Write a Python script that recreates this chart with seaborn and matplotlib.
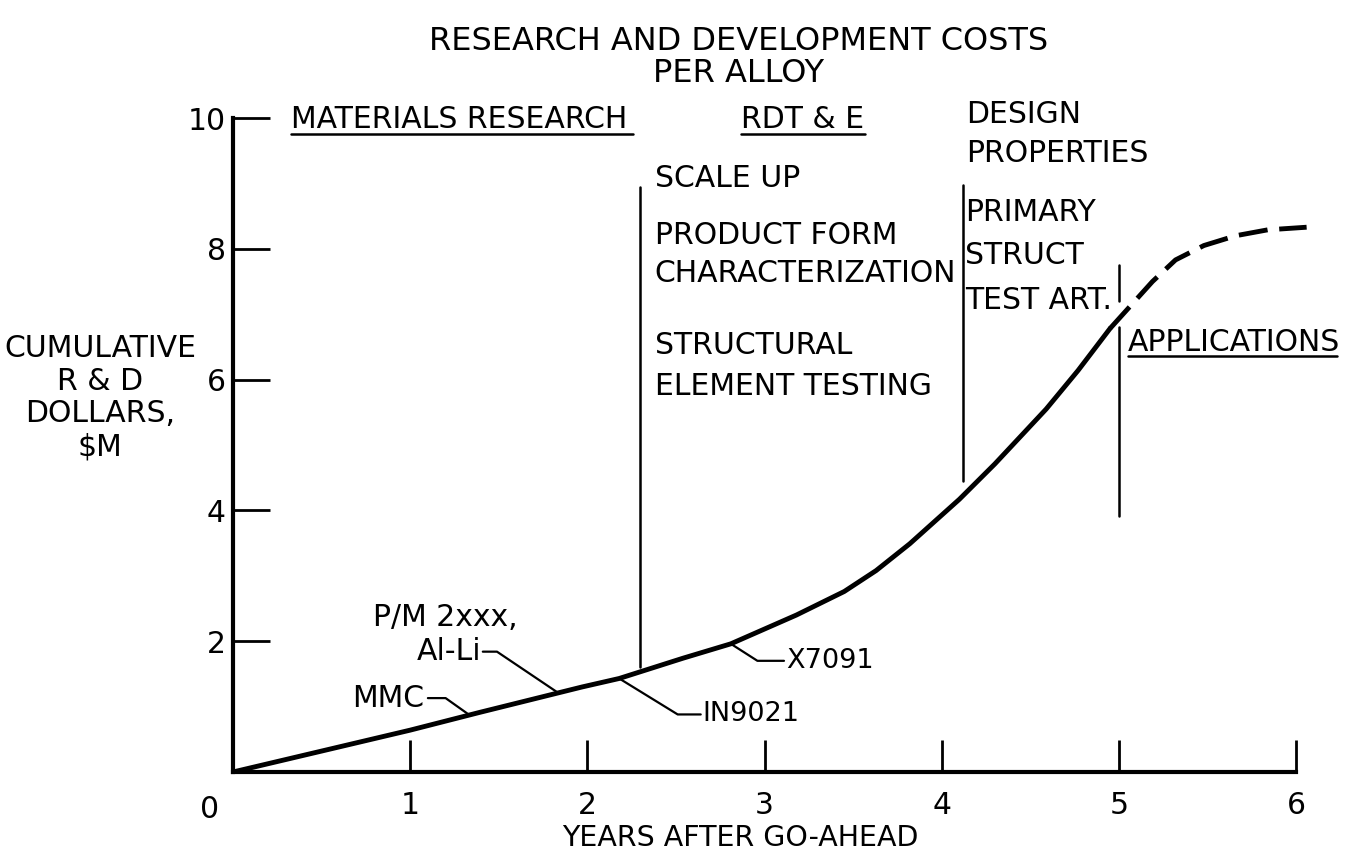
import numpy as np
import pandas as pd
import matplotlib
matplotlib.use('Agg')
import matplotlib.pyplot as plt
import seaborn as sns
from matplotlib import font_manager

# Cumulative R&D cost curve (years after go-ahead, $M)
years_solid = [0.0, 0.5, 1.0, 1.39, 1.97, 2.18, 2.54, 2.81, 3.18, 3.45, 3.63, 3.82, 4.10, 4.30, 4.59, 4.77, 4.95]
cost_solid = [0.0, 0.32, 0.64, 0.91, 1.30, 1.43, 1.74, 1.96, 2.40, 2.76, 3.08, 3.49, 4.17, 4.71, 5.55, 6.14, 6.78]
# projected part (dashed)
years_dash = [4.95, 5.09, 5.19, 5.32, 5.48, 5.66, 5.84, 6.06]
cost_dash = [6.78, 7.20, 7.50, 7.83, 8.05, 8.20, 8.29, 8.33]

x_ticks = [1, 2, 3, 4, 5, 6]
y_ticks = [2, 4, 6, 8, 10]

# phase boundaries: (year, bottom, top)
phase_lines = [(2.30, 1.61, 8.94), (4.12, 4.45, 8.97), (5.00, 3.91, 6.81), (5.00, 7.20, 7.75)]

sns.set_theme(style='white')
names = {f.name for f in font_manager.fontManager.ttflist}
if 'Liberation Sans Narrow' in names:
    fam, fs, tfs, nfs = 'Liberation Sans Narrow', 23, 25, 23
else:
    fam, fs, tfs, nfs = 'DejaVu Sans', 21.5, 23, 19.5
plt.rcParams['font.family'] = [fam, 'DejaVu Sans']
plt.rcParams['text.color'] = 'black'

W, H = 1355, 852
fig = plt.figure(figsize=(W / 100, H / 100), dpi=100)
fig.patch.set_facecolor('white')
ax = fig.add_axes([233 / W, 1 - 772 / H, (1296 - 233) / W, (772 - 118) / H])
ax.set_facecolor('white')

sns.lineplot(x=years_solid, y=cost_solid, ax=ax, color='black', lw=3.5,
             estimator=None, sort=False, solid_joinstyle='round')
sns.lineplot(x=years_dash, y=cost_dash, ax=ax, color='black', lw=3.5,
             estimator=None, sort=False)
dash = ax.lines[-1]
dash.set_dashes([6, 2.4])
dash.set_clip_on(False)

ax.set_xlim(0, 6)
ax.set_ylim(0, 10)
ax.set_xticks(x_ticks)
ax.set_yticks(y_ticks)
ax.set_xlabel('')
ax.set_ylabel('')
for s in ['top', 'right']:
    ax.spines[s].set_visible(False)
for s in ['left', 'bottom']:
    ax.spines[s].set_linewidth(3)
    ax.spines[s].set_color('black')
ax.tick_params(axis='y', direction='in', length=26.5, width=2, pad=5,
               labelsize=fs, colors='black', left=True)
ax.tick_params(axis='x', direction='in', length=23, width=2, pad=14,
               labelsize=fs, colors='black', bottom=True)

# phase boundary lines
for xv, y0, y1 in phase_lines:
    ax.plot([xv, xv], [y0, y1], color='black', lw=1.8)

tk = dict(fontsize=fs, color='black', va='baseline')
# phase headings
ax.text(0.33, 9.85, 'MATERIALS RESEARCH', ha='left', **tk)
ax.plot([0.33, 2.26], [9.76, 9.76], color='black', lw=1.8, clip_on=False)
ax.text(2.87, 9.85, 'RDT & E', ha='left', **tk)
ax.plot([2.87, 3.57], [9.76, 9.76], color='black', lw=1.8, clip_on=False)
ax.text(4.14, 9.92, 'DESIGN', ha='left', **tk)
ax.text(4.14, 9.32, 'PROPERTIES', ha='left', **tk)
ax.text(5.05, 6.44, 'APPLICATIONS', ha='left', **tk)
ax.plot([5.05, 6.23], [6.36, 6.36], color='black', lw=1.8, clip_on=False)

# RDT&E activities
ax.text(2.38, 8.95, 'SCALE UP', ha='left', **tk)
ax.text(2.38, 8.08, 'PRODUCT FORM', ha='left', **tk)
ax.text(2.38, 7.49, 'CHARACTERIZATION', ha='left', **tk)
ax.text(2.38, 6.39, 'STRUCTURAL', ha='left', **tk)
ax.text(2.38, 5.76, 'ELEMENT TESTING', ha='left', **tk)
ax.text(4.13, 8.42, 'PRIMARY', ha='left', **tk)
ax.text(4.13, 7.76, 'STRUCT', ha='left', **tk)
ax.text(4.13, 7.08, 'TEST ART.', ha='left', **tk)

# alloy call-outs
lk = dict(color='black', lw=1.6, clip_on=False)
ax.plot([1.33, 1.20, 1.10], [0.88, 1.13, 1.13], **lk)
ax.text(1.08, 1.13, 'MMC', ha='right', va='center', fontsize=fs)
ax.plot([1.83, 1.49, 1.41], [1.22, 1.84, 1.84], **lk)
ax.text(1.40, 1.84, 'Al-Li', ha='right', va='center', fontsize=fs)
ax.text(1.20, 2.24, 'P/M 2xxx,', ha='center', va='baseline', fontsize=fs)
ax.plot([2.18, 2.51, 2.64], [1.43, 0.88, 0.88], **lk)
ax.text(2.65, 0.88, 'IN9021', ha='left', va='center', fontsize=nfs)
ax.plot([2.81, 2.96, 3.11], [1.96, 1.70, 1.70], **lk)
ax.text(3.12, 1.70, 'X7091', ha='left', va='center', fontsize=nfs)

# origin, axis titles and chart title
fig.text(210 / W, 1 - 818 / H, '0', ha='center', va='baseline', fontsize=fs)
fig.text(740 / W, 1 - 846 / H, 'YEARS AFTER GO-AHEAD', ha='center', va='baseline', fontsize=nfs + 1)
for txt, yb in [('CUMULATIVE', 357), ('R & D', 390), ('DOLLARS,', 422), ('$M', 455)]:
    fig.text(100 / W, 1 - yb / H, txt, ha='center', va='baseline', fontsize=fs)
fig.text(739 / W, 1 - 50 / H, 'RESEARCH AND DEVELOPMENT COSTS', ha='center', va='baseline', fontsize=tfs)
fig.text(739 / W, 1 - 82 / H, 'PER ALLOY', ha='center', va='baseline', fontsize=tfs)

fig.savefig('out.png', dpi=100, facecolor='white')
